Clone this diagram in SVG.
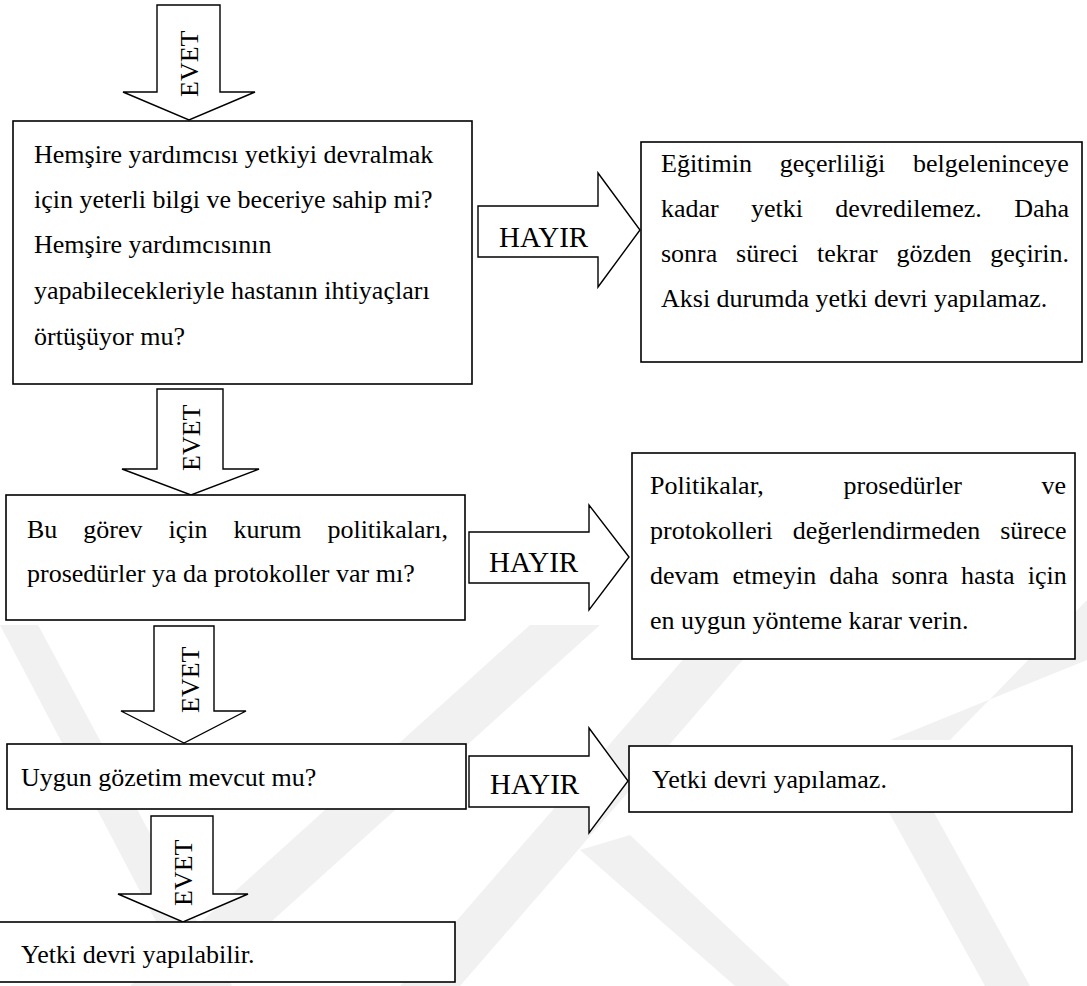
<svg xmlns="http://www.w3.org/2000/svg" width="1087" height="986" viewBox="0 0 1087 986">
<style>
.box{fill:#fff;stroke:#000;stroke-width:1.6}
.arr{fill:#fff;stroke:#000;stroke-width:1.4;stroke-linejoin:miter}
.lbl{font-family:"Liberation Serif","Times New Roman",serif;font-size:29px;fill:#000}
.ev{font-family:"Liberation Serif","Times New Roman",serif;font-size:26px;fill:#000}
.txt{font-family:"Liberation Serif","Times New Roman",serif;font-size:26px;fill:#000}
.wm{fill:#f1f1f1}
</style>
<rect width="1087" height="986" fill="#fff"/>
<g id="watermark">
<polygon class="wm" points="0,625 38,625 232,986 190,986"/>
<polygon class="wm" points="130,986 200,986 600,625 530,625"/>
<polygon class="wm" points="400,986 460,986 760,640 700,640"/>
<polygon class="wm" points="580,850 630,835 790,986 735,986"/>
<polygon class="wm" points="860,760 905,760 1030,986 985,986"/>
<polygon class="wm" points="890,740 950,740 1087,600 1087,660"/>
</g>
<g id="connectors">
<g id="evet1"><polygon class="arr" points="157,5 220,5 220,92 255,92 189,120 123,92 157,92"/><text class="ev" transform="translate(198,97) rotate(-90)">EVET</text></g>
<g id="evet2"><polygon class="arr" points="157,389 223,389 223,469 259,469 191,495 122,469 157,469"/><text class="ev" transform="translate(200,471) rotate(-90)">EVET</text></g>
<g id="evet3"><polygon class="arr" points="154,626 214,626 214,711 246,711 184,743 121,711 154,711"/><text class="ev" transform="translate(199,713) rotate(-90)">EVET</text></g>
<g id="evet4"><polygon class="arr" points="151,816 213,816 213,894 248,894 183,922 118,894 151,894"/><text class="ev" transform="translate(192,906) rotate(-90)">EVET</text></g>
<g id="hayir1"><polygon class="arr" points="478,206 598,206 598,173 640,230 598,287 598,257 478,257"/><text class="lbl" x="499" y="247">HAYIR</text></g>
<g id="hayir2"><polygon class="arr" points="469,532 589,532 589,505 629,557 589,610 589,583 469,583"/><text class="lbl" x="489" y="572">HAYIR</text></g>
<g id="hayir3"><polygon class="arr" points="469,756 589,756 589,728 628,781 589,833 589,807 469,807"/><text class="lbl" x="490" y="794">HAYIR</text></g>
</g>
<g id="q1">
<rect class="box" x="13" y="121" width="459" height="263"/>
<text class="txt" x="34" y="163">Hemşire yardımcısı yetkiyi devralmak</text>
<text class="txt" x="34" y="208">için yeterli bilgi ve beceriye sahip mi?</text>
<text class="txt" x="34" y="253">Hemşire yardımcısının</text>
<text class="txt" x="34" y="299">yapabilecekleriyle hastanın ihtiyaçları</text>
<text class="txt" x="34" y="345">örtüşüyor mu?</text>
</g>
<g id="r1">
<rect class="box" x="641" y="142" width="441" height="220"/>
<text class="txt" x="661" y="172" word-spacing="21.3">Eğitimin geçerliliği belgeleninceye</text>
<text class="txt" x="661" y="217" word-spacing="25.8">kadar yetki devredilemez. Daha</text>
<text class="txt" x="661" y="262" word-spacing="12.3">sonra süreci tekrar gözden geçirin.</text>
<text class="txt" x="661" y="307">Aksi durumda yetki devri yapılamaz.</text>
</g>
<g id="q2">
<rect class="box" x="6" y="495" width="459" height="125"/>
<text class="txt" x="27" y="538" word-spacing="19.5">Bu görev için kurum politikaları,</text>
<text class="txt" x="27" y="582">prosedürler ya da protokoller var mı?</text>
</g>
<g id="r2">
<rect class="box" x="632" y="453" width="443" height="206"/>
<text class="txt" x="650" y="494" word-spacing="73.2">Politikalar, prosedürler ve</text>
<text class="txt" x="650" y="539" word-spacing="13.4">protokolleri değerlendirmeden sürece</text>
<text class="txt" x="650" y="584" word-spacing="6.66">devam etmeyin daha sonra hasta için</text>
<text class="txt" x="650" y="629">en uygun yönteme karar verin.</text>
</g>
<g id="q3">
<rect class="box" x="7" y="744" width="459" height="65"/>
<text class="txt" x="21" y="786">Uygun gözetim mevcut mu?</text>
</g>
<g id="r3">
<rect class="box" x="629" y="746" width="443" height="66"/>
<text class="txt" x="652" y="788">Yetki devri yapılamaz.</text>
</g>
<g id="end">
<rect class="box" x="-1" y="922" width="456" height="60"/>
<text class="txt" x="21" y="963">Yetki devri yapılabilir.</text>
</g>
</svg>
